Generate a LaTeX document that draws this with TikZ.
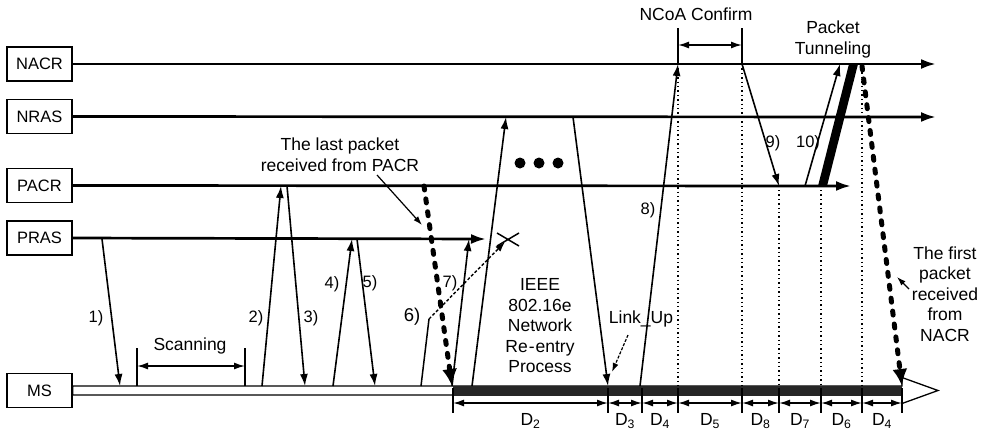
\documentclass[tikz,border=0pt]{standalone}
\usepackage{fontspec}
\setmainfont{Liberation Sans}
\usetikzlibrary{arrows.meta}
\begin{document}
\begin{tikzpicture}[x=1pt,y=-1pt,
  box/.style={draw,line width=1.3pt,minimum width=65pt,minimum height=34pt,inner sep=0pt,font=\fontsize{16.5}{18}\selectfont},
  lane/.style={line width=2.7pt,-{Latex[length=15pt,width=10pt]}},
  msg/.style={line width=1.6pt,-{Latex[length=12pt,width=8pt]}},
  num/.style={font=\fontsize{16.5}{18}\selectfont,inner sep=0pt},
  txt/.style={font=\fontsize{17.5}{20.5}\selectfont,align=center,inner sep=0pt},
  vdot/.style={line width=1.4pt,dash pattern=on 1.4pt off 3pt},
  bigdash/.style={line width=5pt,line cap=round,dash pattern=on 4pt off 9pt,-{Latex[length=17pt,width=15pt]}},
  dim/.style={line width=1.5pt,{Latex[length=11pt,width=7pt]}-{Latex[length=11pt,width=7pt]}},
  pointer/.style={line width=1.2pt,-{Latex[length=9pt,width=6pt]}}]
\useasboundingbox (0,0) rectangle (985,432);

% boxes
\node[box] (NACR) at (39.5,64) {NACR};
\node[box] (NRAS) at (39.5,116.5) {NRAS};
\node[box] (PACR) at (39.5,185.5) {PACR};
\node[box] (PRAS) at (39.5,238) {PRAS};
\node[box] (MS) at (39.5,390.5) {MS};

% lane ends
\coordinate (nacrE) at (936,64);
\coordinate (nrasE) at (936,117);
\coordinate (pacrE) at (851,186);
\coordinate (prasE) at (486,239);
\draw[lane] (NACR.east) -- (nacrE);
\draw[lane] (NRAS.east) -- (nrasE);
\draw[lane] (PACR.east) -- (pacrE);
\draw[lane] (PRAS.east) -- (prasE);

% MS hollow arrow
\draw[line width=1.3pt,fill=white] (MS.east |- 0,386) -- (902,386) -- (902,377.5) -- (938,390.5) -- (902,403.5) -- (902,395) -- (MS.east |- 0,395) -- cycle;
\fill[black!85] (453,385.5) rectangle (902,395.5);

% dotted verticals
\coordinate (v1t) at (678,64);  \coordinate (v1b) at (678,386);
\coordinate (v2t) at (742,64);  \coordinate (v2b) at (742,386);
\coordinate (v3t) at (779,190); \coordinate (v3b) at (779,386);
\coordinate (v4t) at (821,190); \coordinate (v4b) at (821,386);
\coordinate (v5t) at (862,68);  \coordinate (v5b) at (862,386);
\foreach \a in {v1,v2,v3,v4,v5} \draw[vdot] (\a t) -- (\a b);

% 1)
\coordinate (m1a) at (102,239); \coordinate (m1b) at (120,386);
\draw[msg] (m1a) -- (m1b);
\node[num] (n1) at (96,318) {1)};

% scanning
\coordinate (s1t) at (137,348); \coordinate (s1b) at (137,386);
\coordinate (s2t) at (245,348); \coordinate (s2b) at (245,386);
\draw[line width=1.6pt] (s1t) -- (s1b) (s2t) -- (s2b);
\coordinate (s1m) at (137,366); \coordinate (s2m) at (245,366);
\draw[dim] (s1m) -- (s2m);
\node[txt] (scan) at (190,346) {Scanning};

% 2) 3)
\coordinate (m2a) at (262,386); \coordinate (m2b) at (281,186);
\draw[msg] (m2a) -- (m2b);
\coordinate (m3a) at (287,186); \coordinate (m3b) at (305,386);
\draw[msg] (m3a) -- (m3b);
\node[num] (n2) at (256,318) {2)};
\node[num] (n3) at (311,318) {3)};

% 4) 5)
\coordinate (m4a) at (333,386); \coordinate (m4b) at (352,239);
\draw[msg] (m4a) -- (m4b);
\coordinate (m5a) at (357,239); \coordinate (m5b) at (375,386);
\draw[msg] (m5a) -- (m5b);
\node[num] (n4) at (332,284) {4)};
\node[num] (n5) at (370,283) {5)};

% 6)
\coordinate (m6a) at (421,386); \coordinate (m6k) at (429,319); \coordinate (m6b) at (505,242);
\draw[line width=1.5pt] (m6a) -- (m6k);
\draw[line width=1.4pt,dash pattern=on 3pt off 2pt,-{Latex[length=10pt,width=7pt]}] (m6k) -- (m6b);
\coordinate (x1) at (497,233); \coordinate (x2) at (519,246);
\coordinate (x3) at (497,246); \coordinate (x4) at (519,233);
\draw[line width=1.5pt] (x1) -- (x2) (x3) -- (x4);
\node[num,font=\fontsize{18.5}{20}\selectfont] (n6) at (412,317) {6)};

% 7)
\coordinate (m7a) at (452,386); \coordinate (m7b) at (469,239);
\draw[msg] (m7a) -- (m7b);
\node[num] (n7) at (450,283) {7)};

% last packet from PACR
\coordinate (lpa) at (424,186); \coordinate (lpb) at (452,386);
\draw[bigdash] (lpa) -- (lpb);
\node[txt] (lastp) at (340,154.5) {The last packet\\received from PACR};
\coordinate (lpp1) at (377,175); \coordinate (lpp2) at (422,225);
\draw[pointer] (lpp1) -- (lpp2);

% trapezoid (network re-entry)
\coordinate (ta) at (472,386); \coordinate (tb) at (506,117);
\coordinate (tc) at (573,117); \coordinate (td) at (608,386);
\draw[msg] (ta) -- (tb);
\draw[msg] (tc) -- (td);
\foreach \x in {520,539,558} \fill (\x,163) circle (5.5pt);
\node[txt] (ieee) at (540,326) {IEEE\\802.16e\\Network\\Re\kern1pt{-}\kern1pt entry\\Process};

% Link_Up
\node[txt] (link) at (641,319) {Link\_Up};
\coordinate (lu1) at (628,335); \coordinate (lu2) at (612,372);
\draw[pointer,dash pattern=on 3pt off 1.5pt] (lu1) -- (lu2);

% 8)
\coordinate (m8a) at (640,386); \coordinate (m8b) at (678,64);
\draw[msg] (m8a) -- (m8b);
\node[num] (n8) at (648,210) {8)};

% NCoA confirm
\coordinate (c1t) at (678,28); \coordinate (c2t) at (742,28);
\draw[line width=1.6pt] (c1t) -- (v1t) (c2t) -- (v2t);
\coordinate (c1m) at (678,45); \coordinate (c2m) at (742,45);
\draw[dim] (c1m) -- (c2m);
\node[txt] (ncoa) at (696,14) {NCoA Confirm};

% 9) 10)
\coordinate (m9a) at (742,64); \coordinate (m9b) at (779,186);
\draw[msg] (m9a) -- (m9b);
\coordinate (m10a) at (805,186); \coordinate (m10b) at (840,64);
\draw[msg] (m10a) -- (m10b);
\node[num] (n9) at (773,143) {9)};
\node[num] (n10) at (808,143) {10)};

% packet tunneling bar
\fill (818,186) -- (827,186) -- (858,64) -- (849,64) -- cycle;
\node[txt] (tun) at (833,39.5) {Packet\\Tunneling};

% first packet from NACR
\coordinate (fpa) at (862,66); \coordinate (fpb) at (902,386);
\draw[bigdash] (fpa) -- (fpb);
\node[txt] (firstp) at (945,294) {The first\\packet\\received\\from\\NACR};
\coordinate (fp1) at (909,289); \coordinate (fp2) at (897,277);
\draw[pointer] (fp1) -- (fp2);

% timeline
\foreach \x in {453,608,642,678,742,779,821,862,902}
  \draw[line width=1.6pt] (\x,388) -- (\x,413);
\foreach \a/\b/\l in {453/608/2,608/642/3,642/678/4,678/742/5,742/779/8,779/821/7,821/862/6,862/902/4}{
  \draw[dim] (\a,403) -- (\b,403);
  \node[txt] at ({(\a+\b)/2},421) {D\textsubscript{\l}};
}
\end{tikzpicture}
\end{document}
